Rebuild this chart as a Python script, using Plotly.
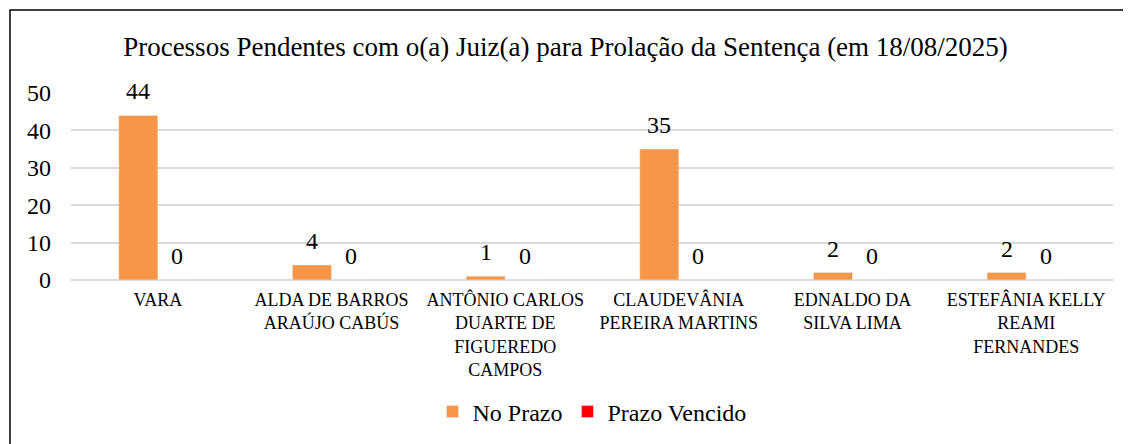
import plotly.graph_objects as go

categories = [
    "VARA",
    "ALDA DE BARROS<br>ARAÚJO CABÚS",
    "ANTÔNIO CARLOS<br>DUARTE DE<br>FIGUEREDO<br>CAMPOS",
    "CLAUDEVÂNIA<br>PEREIRA MARTINS",
    "EDNALDO DA<br>SILVA LIMA",
    "ESTEFÂNIA KELLY<br>REAMI<br>FERNANDES",
]
no_prazo = [44, 4, 1, 35, 2, 2]
prazo_vencido = [0, 0, 0, 0, 0, 0]
y_ticks = [0, 10, 20, 30, 40, 50]

FONT = "'Times New Roman', 'Liberation Serif', 'DejaVu Serif', serif"

OFF = 8  # page body margin
W, H = 1131 - 2 * OFF, 444 - OFF
PL, PR, PT, PB = 71, 1113, 93, 280  # plot area in page pixels
L = PL - OFF
T = PT - OFF
pw = PR - PL
ph = PB - PT
R = W - L - pw
B = H - T - ph
BARGAP = 0.55
bar_px = pw / len(categories) * (1 - BARGAP) / 2

def px_x(p):
    return (p - PL) / pw

def px_y(p):
    return (PB - p) / ph

fig = go.Figure()
series = [("No Prazo", no_prazo, "#F79646", -0.5), ("Prazo Vencido", prazo_vencido, "#FF0000", 0.5)]
annotations = []
for name, vals, color, side in series:
    fig.add_trace(go.Bar(x=categories, y=vals, name=name, marker_color=color))
    for c, v in zip(categories, vals):
        annotations.append(dict(
            x=c, y=v, xref="x", yref="y", text=str(v), showarrow=False,
            xshift=side * bar_px, yshift=9, yanchor="bottom",
            font=dict(family=FONT, size=24, color="#000000"),
        ))

fig.update_layout(
    width=W, height=H,
    margin=dict(l=L, r=R, t=T, b=B),
    paper_bgcolor="white", plot_bgcolor="white",
    font=dict(family=FONT, color="#000000"),
    title=dict(
        text="Processos Pendentes com o(a) Juiz(a) para Prolação da Sentença (em 18/08/2025)",
        x=0.5, xanchor="center", y=1 - (47 - OFF) / H, yanchor="middle",
        font=dict(family=FONT, size=27, color="#000000"),
    ),
    barmode="group", bargap=BARGAP, bargroupgap=0.0,
    showlegend=True,
    legend=dict(
        orientation="h", x=0.5, xanchor="center",
        y=px_y(412), yanchor="middle",
        font=dict(family=FONT, size=24, color="#000000"),
        traceorder="normal", itemwidth=30,
    ),
    xaxis=dict(
        tickfont=dict(family=FONT, size=18, color="#000000"),
        showline=False, showgrid=False, ticks="",
        tickangle=0, ticklabelstandoff=7,
    ),
    yaxis=dict(
        range=[0, 50], tickvals=y_ticks,
        tickfont=dict(family=FONT, size=24, color="#000000"),
        showgrid=True, gridcolor="#D9D9D9", gridwidth=1.5,
        zeroline=True, zerolinecolor="#D9D9D9", zerolinewidth=1.5,
        showline=False, ticks="", ticklabelstandoff=19,
    ),
    annotations=annotations,
    shapes=[dict(
        type="rect", xref="paper", yref="paper",
        x0=px_x(10), x1=px_x(1160), y0=px_y(470), y1=px_y(10),
        line=dict(color="#000000", width=1.5), fillcolor="rgba(0,0,0,0)",
        layer="above",
    )],
)

fig.write_html("out.html")
